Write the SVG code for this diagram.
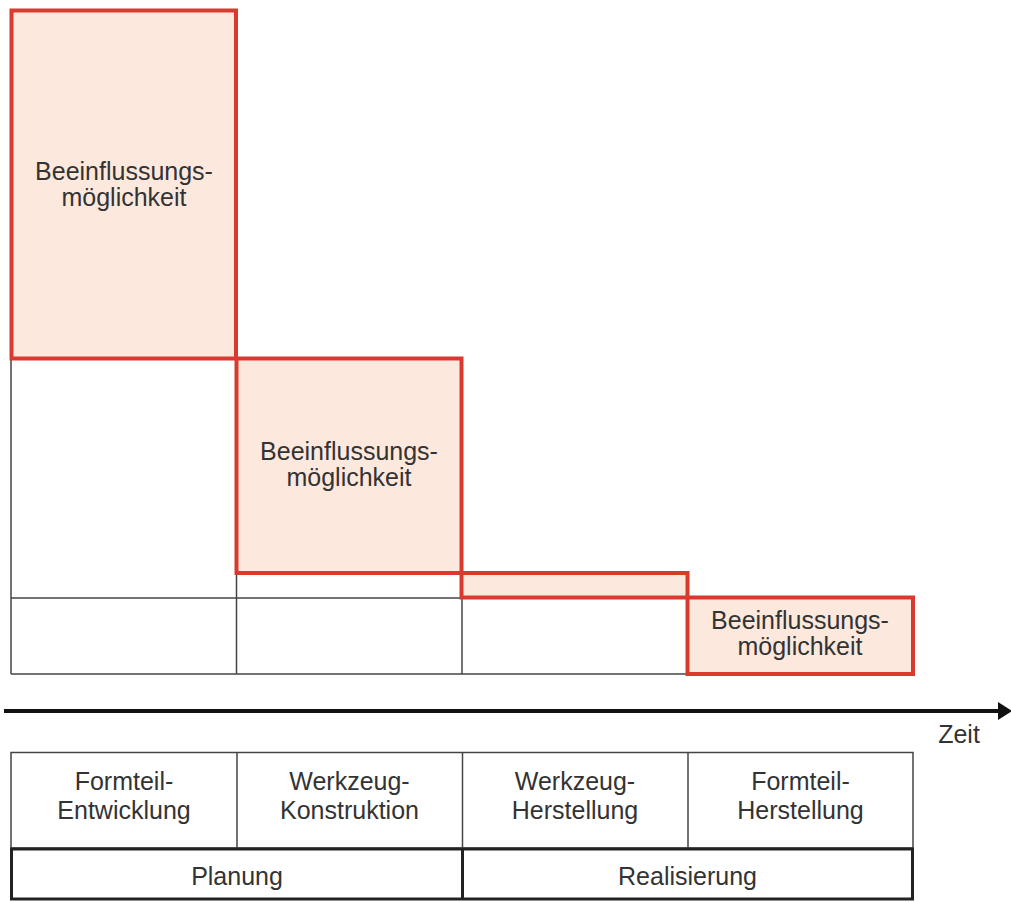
<svg xmlns="http://www.w3.org/2000/svg" width="1011" height="902" viewBox="0 0 1011 902">
<style>
  .fill { fill: #fde8dd; stroke: none; }
  .red { fill: none; stroke: #d93a30; stroke-width: 4; stroke-linejoin: miter; }
  .grid { fill: none; stroke: #444; stroke-width: 1.5; }
  .thick { fill: none; stroke: #222; stroke-width: 3; }
  text { font-family: "Liberation Sans", Arial, sans-serif; font-size: 25px; fill: #333; text-anchor: middle; }
</style>
<defs>
  <marker id="arrowhead" markerWidth="14" markerHeight="18" refX="0" refY="9" orient="auto" markerUnits="userSpaceOnUse">
    <polygon points="0,0 14,9 0,18" fill="#111"/>
  </marker>
</defs>
<rect width="1011" height="902" fill="#fff"/>

<g id="grid">
  <line class="grid" x1="11" y1="358" x2="11" y2="674"/>
  <line class="grid" x1="11" y1="598" x2="462" y2="598"/>
  <line class="grid" x1="11" y1="674" x2="687" y2="674"/>
  <line class="grid" x1="236.5" y1="573" x2="236.5" y2="674"/>
  <line class="grid" x1="462" y1="598" x2="462" y2="674"/>
</g>

<g id="box1">
  <rect class="fill" x="11.5" y="10.5" width="224.5" height="348"/>
  <rect class="red" x="11.5" y="10.5" width="224.5" height="348"/>
  <text x="124" y="180">Beeinflussungs-</text>
  <text x="124" y="206">möglichkeit</text>
</g>
<g id="box2">
  <rect class="fill" x="236.5" y="358.5" width="225" height="214.5"/>
  <rect class="red" x="236.5" y="358.5" width="225" height="214.5"/>
  <text x="349" y="460">Beeinflussungs-</text>
  <text x="349" y="486">möglichkeit</text>
</g>
<g id="box3">
  <rect class="fill" x="461.5" y="573" width="226" height="24.5"/>
  <rect class="red" x="461.5" y="573" width="226" height="24.5"/>
</g>
<g id="box4">
  <rect class="fill" x="687.5" y="597.5" width="225.5" height="76.5"/>
  <rect class="red" x="687.5" y="597.5" width="225.5" height="76.5"/>
  <text x="800" y="629">Beeinflussungs-</text>
  <text x="800" y="655">möglichkeit</text>
</g>

<g id="connectors">
  <line x1="4" y1="711" x2="998" y2="711" stroke="#111" stroke-width="4" marker-end="url(#arrowhead)"/>
</g>
<g id="zeit-label">
  <text x="959" y="743">Zeit</text>
</g>

<g id="phases">
  <rect class="grid" x="11" y="752.5" width="902" height="95.5"/>
  <line class="grid" x1="237" y1="752.5" x2="237" y2="848"/>
  <line class="grid" x1="462.5" y1="752.5" x2="462.5" y2="848"/>
  <line class="grid" x1="688" y1="752.5" x2="688" y2="848"/>
  <g id="p1"><text x="124" y="790">Formteil-</text><text x="124" y="819">Entwicklung</text></g>
  <g id="p2"><text x="349.5" y="790">Werkzeug-</text><text x="349.5" y="819">Konstruktion</text></g>
  <g id="p3"><text x="575" y="790">Werkzeug-</text><text x="575" y="819">Herstellung</text></g>
  <g id="p4"><text x="800.5" y="790">Formteil-</text><text x="800.5" y="819">Herstellung</text></g>
</g>
<g id="stages">
  <rect class="thick" x="11.5" y="849" width="901" height="50"/>
  <line class="thick" x1="462.5" y1="849" x2="462.5" y2="899"/>
  <g id="planung"><text x="237" y="885">Planung</text></g>
  <g id="realisierung"><text x="687.5" y="885">Realisierung</text></g>
</g>
</svg>
